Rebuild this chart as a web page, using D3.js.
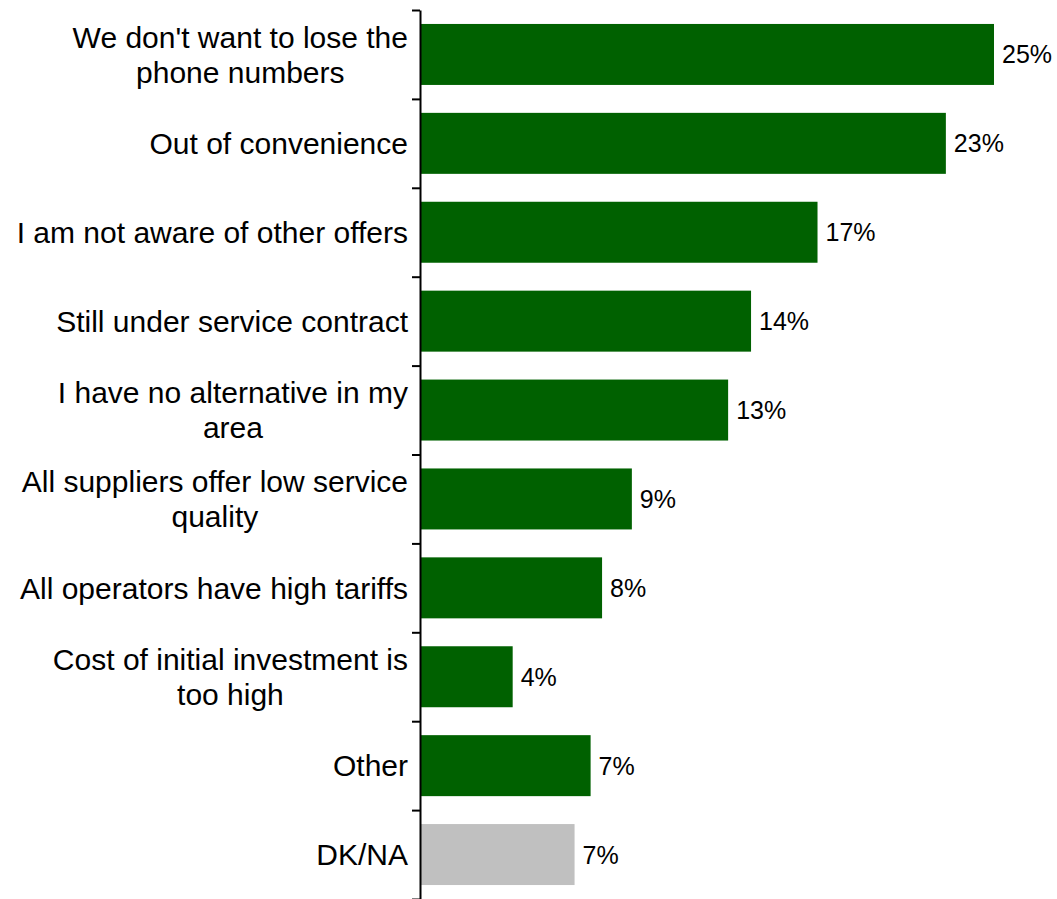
<!DOCTYPE html>
<html>
<head>
<meta charset="utf-8">
<script src="https://cdn.jsdelivr.net/npm/d3@7"></script>
<style>
  html, body { margin: 0; padding: 0; background: #ffffff; }
  svg { display: block; }
  text { font-family: "Liberation Sans", Arial, sans-serif; fill: #000; }
</style>
</head>
<body>
<svg id="chart" width="1057" height="899"></svg>
<script>
// Reasons for staying with the current provider (share of respondents, %)
const categories = [
  "We don't want to lose the\nphone numbers",
  "Out of convenience",
  "I am not aware of other offers",
  "Still under service contract",
  "I have no alternative in my\narea",
  "All suppliers offer low service\nquality",
  "All operators have high tariffs",
  "Cost of initial investment is\ntoo high",
  "Other",
  "DK/NA"
];
const values = [25.0, 22.9, 17.3, 14.4, 13.4, 9.2, 7.9, 4.0, 7.4, 6.7];
const barColors = ["#006100", "#006100", "#006100", "#006100", "#006100",
                   "#006100", "#006100", "#006100", "#006100", "#c0c0c0"];

const data = categories.map((c, i) => ({ label: c, value: values[i], color: barColors[i] }));

const svg = d3.select("#chart");
const axisX = 420;
const plotTop = 10, plotBottom = 899;

const x = d3.scaleLinear().domain([0, 25]).range([axisX + 1, 994]);
const y = d3.scaleBand()
  .domain(d3.range(data.length))
  .range([plotTop, plotBottom])
  .paddingInner(0.314)
  .paddingOuter(0.157);

// Tick marks fall on the boundaries between categories
const yEdges = d3.scaleLinear().domain([0, data.length]).range([plotTop, plotBottom]);

// Bars
svg.append("g")
  .selectAll("rect")
  .data(data)
  .join("rect")
  .attr("x", x(0))
  .attr("y", (d, i) => y(i))
  .attr("width", d => x(d.value) - x(0))
  .attr("height", y.bandwidth())
  .attr("fill", d => d.color);

// Vertical axis with boundary ticks
const axis = svg.append("g")
  .attr("transform", `translate(${axisX},0)`)
  .call(d3.axisLeft(yEdges)
    .tickValues(d3.range(data.length + 1))
    .tickSizeInner(8)
    .tickSizeOuter(0)
    .tickFormat(""));
axis.select(".domain").attr("stroke", "#000").attr("stroke-width", 2);
axis.selectAll(".tick line").attr("stroke", "#000").attr("stroke-width", 2);

// Category labels: block right aligned to the axis, lines centred within the block
const lineHeight = 35;
const labelRight = 408;
const labels = svg.append("g")
  .selectAll("text")
  .data(data)
  .join("text")
  .attr("text-anchor", "middle")
  .style("font-size", "30px");

labels.each(function(d, i) {
  const lines = d.label.split("\n");
  const t = d3.select(this);
  const offset = -(lines.length - 1) * lineHeight / 2;
  const spans = lines.map((ln, k) =>
    t.append("tspan")
      .attr("y", y(i) + y.bandwidth() / 2 + offset + k * lineHeight)
      .attr("dy", "0.36em")
      .text(ln));
  const widest = d3.max(spans, s => s.node().getComputedTextLength());
  spans.forEach(s => s.attr("x", labelRight - widest / 2));
});

// Value labels
const fmt = d3.format(".0f");
svg.append("g")
  .selectAll("text")
  .data(data)
  .join("text")
  .attr("x", d => x(d.value) + 8)
  .attr("y", (d, i) => y(i) + y.bandwidth() / 2)
  .attr("dy", "0.36em")
  .style("font-size", "25px")
  .text(d => fmt(d.value) + "%");
</script>
</body>
</html>
